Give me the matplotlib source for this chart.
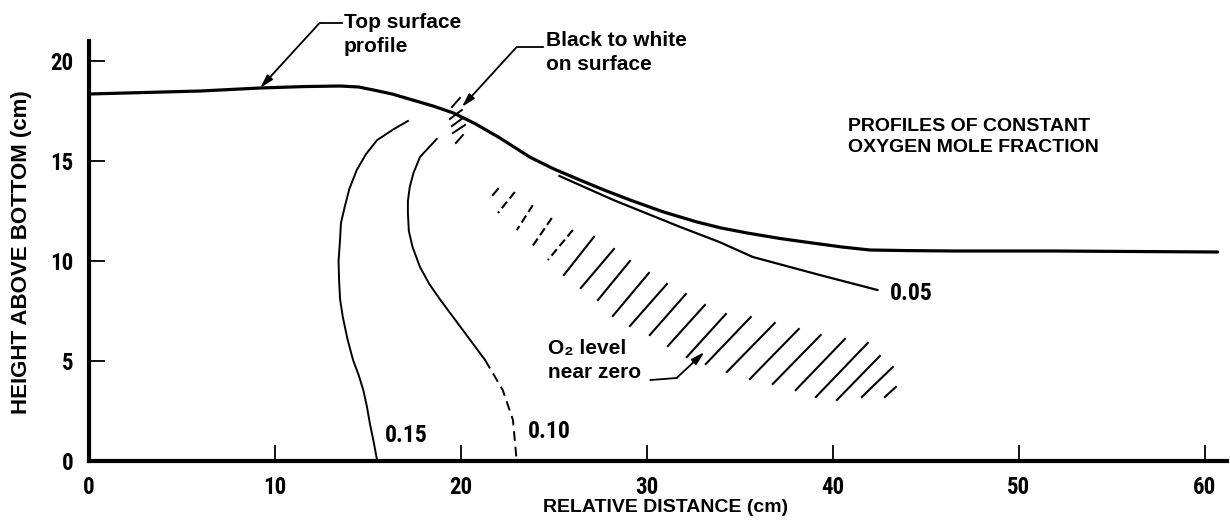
import sys
import matplotlib
matplotlib.use("Agg")
from matplotlib import pyplot as plt
from matplotlib import font_manager as fm

# Profiles of constant oxygen mole fraction (cm)
surface_x = [0.0, 6.0, 9.2, 11.5, 13.5, 14.5, 15.3, 16.3, 17.4, 18.5, 19.6, 20.8, 22.1,
             23.7, 25.0, 26.4, 27.7, 29.1, 30.9, 32.7, 34.0, 35.4, 37.2, 38.9, 40.5,
             42.0, 44.0, 46.5, 51.8, 60.7]
surface_y = [18.35, 18.5, 18.65, 18.72, 18.75, 18.7, 18.55, 18.35, 18.05, 17.75, 17.4,
             16.85, 16.15, 15.2, 14.6, 14.05, 13.55, 13.05, 12.45, 11.95, 11.65, 11.4,
             11.12, 10.9, 10.7, 10.55, 10.52, 10.5, 10.5, 10.45]

c015_x = [17.15, 16.4, 15.5, 14.9, 14.4, 14.0, 13.75, 13.55, 13.5, 13.42, 13.45, 13.5,
          13.65, 13.9, 14.2, 14.5, 14.75, 14.95, 15.1, 15.3, 15.5]
c015_y = [17.0, 16.6, 16.05, 15.35, 14.55, 13.6, 12.7, 11.9, 11.05, 10.0, 9.05, 8.1,
          7.2, 6.1, 5.05, 4.3, 3.55, 2.7, 1.9, 1.0, 0.0]

c010_x = [18.7, 18.3, 17.8, 17.45, 17.25, 17.15, 17.15, 17.2, 17.4, 17.6, 17.8, 18.3,
          18.9, 19.5, 20.1, 20.7, 21.3]
c010_y = [16.1, 15.7, 15.2, 14.4, 13.7, 13.0, 12.4, 11.5, 10.7, 10.2, 9.7, 8.85,
          8.05, 7.3, 6.55, 5.8, 5.05]
c010_dash_x = [21.3, 22.25, 22.8, 23.0]
c010_dash_y = [5.05, 3.55, 2.05, 0.0]

c005_x = [25.3, 28.2, 31.8, 33.9, 35.7, 39.3, 42.4]
c005_y = [14.25, 13.05, 11.7, 10.95, 10.2, 9.3, 8.55]

# hatched band "O2 level near zero": one stroke per entry (upper end, lower end)
hatch_x0 = [21.99, 22.90, 23.87, 24.89, 26.02, 27.15, 28.23, 29.09, 30.11, 31.08, 32.10,
            33.12, 34.25, 35.59, 36.88, 38.17, 39.35, 40.65, 41.88, 42.53, 43.23, 43.39]
hatch_y0 = [13.6, 13.45, 12.8, 12.15, 11.55, 11.2, 10.6, 10.0, 9.4, 8.85, 8.35,
            7.8, 7.35, 7.2, 6.9, 6.6, 6.3, 6.1, 5.9, 5.25, 4.7, 3.7]
hatch_x1 = [21.72, 21.99, 23.01, 23.82, 24.68, 25.54, 26.45, 27.37, 28.17, 29.09, 30.16,
            31.13, 32.15, 33.17, 34.30, 35.54, 36.77, 38.01, 39.09, 40.22, 41.56, 42.80]
hatch_y1 = [13.3, 12.4, 11.55, 10.7, 10.05, 9.3, 8.65, 8.05, 7.25, 6.75, 6.3,
            5.75, 5.2, 4.85, 4.45, 4.1, 3.85, 3.55, 3.2, 3.05, 3.2, 3.2]
hatch_broken = [False, True, True, True, True] + [False] * 17

# "black to white" marks across the surface
mark_x0 = [19.95, 20.05, 20.11, 20.22, 20.11]
mark_y0 = [18.15, 17.55, 17.15, 16.8, 16.3]
mark_x1 = [19.52, 19.41, 19.52, 19.57, 19.73]
mark_y1 = [17.7, 17.1, 16.75, 16.4, 15.9]

x_ticks = [0, 10, 20, 30, 40, 50, 60]
y_ticks = [0, 5, 10, 15, 20]


def number_font(size):
    # condensed bold face for the numbers, if one is installed
    wanted = ['liberationsansnarrow-bold', 'robotocondensed-bold',
              'dejavusanscondensed-bold', 'opensans-condensedbold']
    paths = [f.fname for f in fm.fontManager.ttflist]
    for w in wanted:
        for p in paths:
            if w in p.lower().replace(' ', '').replace('_', '-'):
                print('number font:', p, file=sys.stderr)
                return fm.FontProperties(fname=p, size=size)
    return fm.FontProperties(family='Liberation Sans', weight='bold', size=size)


def callout(ax, path, target):
    xs, ys = zip(*path)
    ax.plot(xs, ys, color='black', lw=1.3, clip_on=False)
    ax.annotate('', xy=target, xytext=path[-1], annotation_clip=False,
                arrowprops=dict(arrowstyle='-|>,head_length=0.8,head_width=0.22',
                                color='black', lw=1.3, shrinkA=0, shrinkB=0))


plt.rcParams['font.family'] = ['Liberation Sans', 'DejaVu Sans']
plt.rcParams['font.weight'] = 'bold'

fig = plt.figure(figsize=(12.3, 5.24), dpi=100)
ax = fig.add_axes([89 / 1230, 63 / 524, 1138 / 1230, 420 / 524])
ax.set_xlim(0, 61.2)
ax.set_ylim(0, 21)

ax.plot(surface_x, surface_y, color='black', lw=2.3, solid_capstyle='round')
ax.plot(c015_x, c015_y, color='black', lw=1.4)
ax.plot(c010_x, c010_y, color='black', lw=1.4)
ax.plot(c010_dash_x, c010_dash_y, color='black', lw=1.4, linestyle=(0, (5, 3)))
ax.plot(c005_x, c005_y, color='black', lw=1.6)

for x0, y0, x1, y1, broken in zip(hatch_x0, hatch_y0, hatch_x1, hatch_y1, hatch_broken):
    ax.plot([x0, x1], [y0, y1], color='black', lw=1.5,
            linestyle=(0, (4, 2)) if broken else '-')
for x0, y0, x1, y1 in zip(mark_x0, mark_y0, mark_x1, mark_y1):
    ax.plot([x0, x1], [y0, y1], color='black', lw=1.4)

# labels on the curves
num = number_font(17)
ax.text(15.9, 0.95, '0.15', fontproperties=num)
ax.text(23.6, 1.15, '0.10', fontproperties=num)
ax.text(43.06, 8.05, '0.05', fontproperties=num)

# callouts
ax.text(13.7, 22.4, 'Top surface\nprofile', fontsize=15, va='top', linespacing=1.35)
callout(ax, [(13.6, 21.9), (12.4, 21.9)], (9.2, 18.65))

ax.text(24.6, 21.5, 'Black to white\non surface', fontsize=15, va='top', linespacing=1.35)
callout(ax, [(24.4, 20.7), (23.0, 20.7)], (20.05, 17.7))

ax.text(24.7, 6.1, 'O\u2082 level\nnear zero', fontsize=15, va='top', linespacing=1.3)
callout(ax, [(30.2, 4.05), (31.6, 4.15)], (33.1, 5.45))

ax.text(40.8, 17.15, 'PROFILES OF CONSTANT\nOXYGEN MOLE FRACTION', fontsize=14,
        va='top', linespacing=1.3)

# axes styling
for s in ['top', 'right']:
    ax.spines[s].set_visible(False)
for s in ['left', 'bottom']:
    ax.spines[s].set_linewidth(3)
ax.set_xticks(x_ticks)
ax.set_yticks(y_ticks)
ax.tick_params(direction='in', length=11.5, width=1.3, pad=11)
tick_font = number_font(16.5)
for lab in ax.get_xticklabels() + ax.get_yticklabels():
    lab.set_fontproperties(tick_font)

fig.text(666 / 1230, 1 - 508 / 524, 'RELATIVE DISTANCE (cm)', fontsize=14,
         ha='center', va='center')
fig.text(22 / 1230, 1 - 252 / 524, 'HEIGHT ABOVE BOTTOM (cm)', fontsize=16,
         ha='center', va='center', rotation=90)

fig.savefig('out.png', dpi=100)
